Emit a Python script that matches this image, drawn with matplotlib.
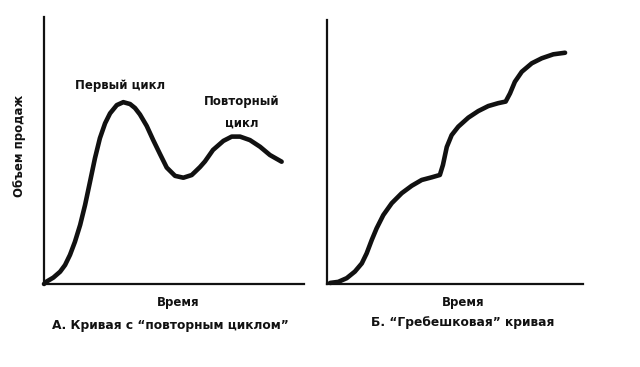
import matplotlib
matplotlib.use('Agg')
import matplotlib.pyplot as plt

# A: curve with a "repeat cycle" (time vs sales volume, axis units 0..100)
cycle_time = [0, 1.0, 3.6, 6.2, 8.1, 10.0, 11.9, 13.9, 15.8, 17.7, 19.6, 21.5,
              23.5, 25.4, 28.0, 30.5, 33.1, 35.0, 36.9, 39.5, 42.0, 44.6, 47.2,
              50.4, 53.6, 56.8, 58.1, 60.0, 61.9, 65.0, 69.0, 72.2, 75.4, 79.2,
              83.1, 86.9, 91.4]
cycle_sales = [0, 0.9, 2.4, 4.6, 7.1, 10.9, 15.8, 22.1, 29.6, 38.3, 47.1, 54.6,
               60.2, 63.9, 67.0, 68.1, 67.4, 65.9, 63.5, 59.2, 53.9, 48.7, 43.6,
               40.5, 39.8, 40.8, 42.0, 43.8, 45.9, 50.2, 53.6, 55.2, 55.2, 53.9,
               51.4, 48.3, 45.8]

# B: "scalloped" curve
scallop_time = [1.2, 4.4, 7.7, 10.9, 13.6, 15.5, 17.5, 19.4, 22.0, 25.3, 29.2,
                33.1, 37.0, 40.9, 44.1, 45.3, 46.8, 48.7, 51.3, 55.2, 59.1, 63.0,
                66.9, 69.8, 71.5, 73.4, 76.1, 80.0, 83.9, 88.4, 93.0]
scallop_sales = [0.4, 0.8, 2.2, 4.7, 7.8, 11.6, 16.7, 21.1, 26.1, 30.6, 34.4,
                 37.2, 39.4, 40.4, 41.3, 45.1, 51.9, 56.4, 59.6, 63.0, 65.5, 67.4,
                 68.5, 69.1, 72.2, 76.6, 80.4, 83.6, 85.5, 87.0, 87.6]

plt.rcParams['font.family'] = ['DejaVu Sans']
ink = '#111111'

fig = plt.figure(figsize=(6.4, 3.67), dpi=100)
ax_a = fig.add_axes([0.06875, 0.2262, 0.40625, 0.7275])
ax_b = fig.add_axes([0.5109, 0.2262, 0.4, 0.7193])

for ax in (ax_a, ax_b):
    ax.set_xlim(0, 100)
    ax.set_ylim(0, 100)
    ax.set_xticks([])
    ax.set_yticks([])
    for side in ('top', 'right'):
        ax.spines[side].set_visible(False)
    for side in ('left', 'bottom'):
        ax.spines[side].set_linewidth(1.6)
        ax.spines[side].set_color(ink)
    ax.patch.set_alpha(0)

ax_a.plot(cycle_time, cycle_sales, color=ink, lw=3.3, solid_capstyle='round',
          solid_joinstyle='round', clip_on=False)
ax_b.plot(scallop_time, scallop_sales, color=ink, lw=3.3, solid_capstyle='round',
          solid_joinstyle='round', clip_on=False)

txt = dict(color=ink, fontweight='bold', fontsize=8.5, ha='center', va='center')
ax_a.text(29.2, 74.5, 'Первый цикл', **txt)
ax_a.text(76.2, 68.2, 'Повторный', **txt)
ax_a.text(76.2, 60.3, 'цикл', **txt)

fig.text(20 / 640, 1 - 146 / 367, 'Объем продаж', rotation=90, **txt)
fig.text(0.278, 0.177, 'Время', **txt)
fig.text(0.7234, 0.1744, 'Время', **txt)

cap = dict(txt, fontsize=8.8)
fig.text(0.2656, 0.1144, 'А. Кривая с \u201cповторным циклом\u201d', **cap)
fig.text(0.7234, 0.1199, 'Б. \u201cГребешковая\u201d кривая', **cap)

fig.savefig('out.png', dpi=100, facecolor='white')
